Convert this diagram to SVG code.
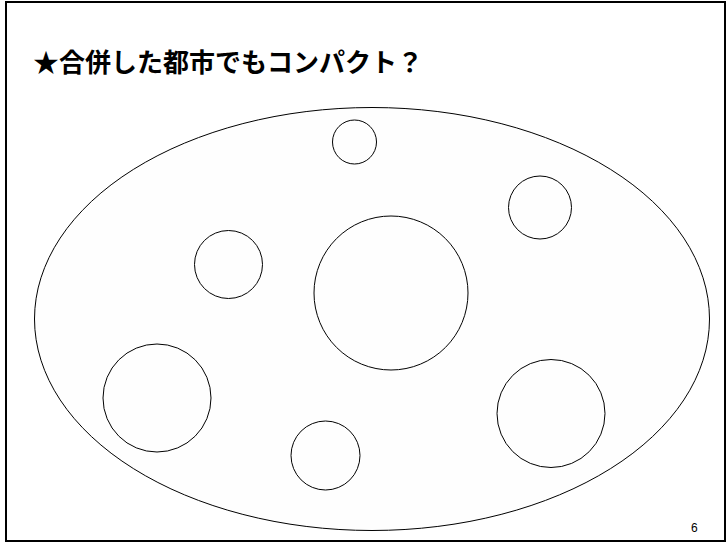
<svg xmlns="http://www.w3.org/2000/svg" width="727" height="544" viewBox="0 0 727 544">
<style>
.c{fill:#fefefe;stroke:#000;stroke-width:1}
.t{font-family:"Liberation Sans","Noto Sans CJK JP",sans-serif;font-weight:bold;font-size:26px;fill:#000}
.n{font-family:"Liberation Sans",sans-serif;font-size:12px;fill:#000}
</style>
<rect x="0" y="0" width="727" height="544" fill="#fff"/>
<rect x="6" y="2" width="719" height="539" fill="#fff" stroke="#000" stroke-width="2"/>
<text class="t" x="33" y="72">★合併した都市でもコンパクト？</text>
<g id="region"><ellipse class="c" cx="372" cy="319" rx="337.5" ry="211.5"/></g>
<g id="c1"><circle class="c" cx="354.5" cy="142" r="22"/></g>
<g id="c2"><circle class="c" cx="540" cy="207.5" r="31.5"/></g>
<g id="c3"><circle class="c" cx="228.5" cy="264.5" r="34"/></g>
<g id="c4"><circle class="c" cx="391" cy="293" r="77"/></g>
<g id="c5"><circle class="c" cx="157" cy="398" r="54"/></g>
<g id="c6"><circle class="c" cx="325.5" cy="455.5" r="34.5"/></g>
<g id="c7"><circle class="c" cx="551" cy="413.5" r="54"/></g>
<g id="connectors"></g>
<text class="n" x="691" y="532">6</text>
</svg>
